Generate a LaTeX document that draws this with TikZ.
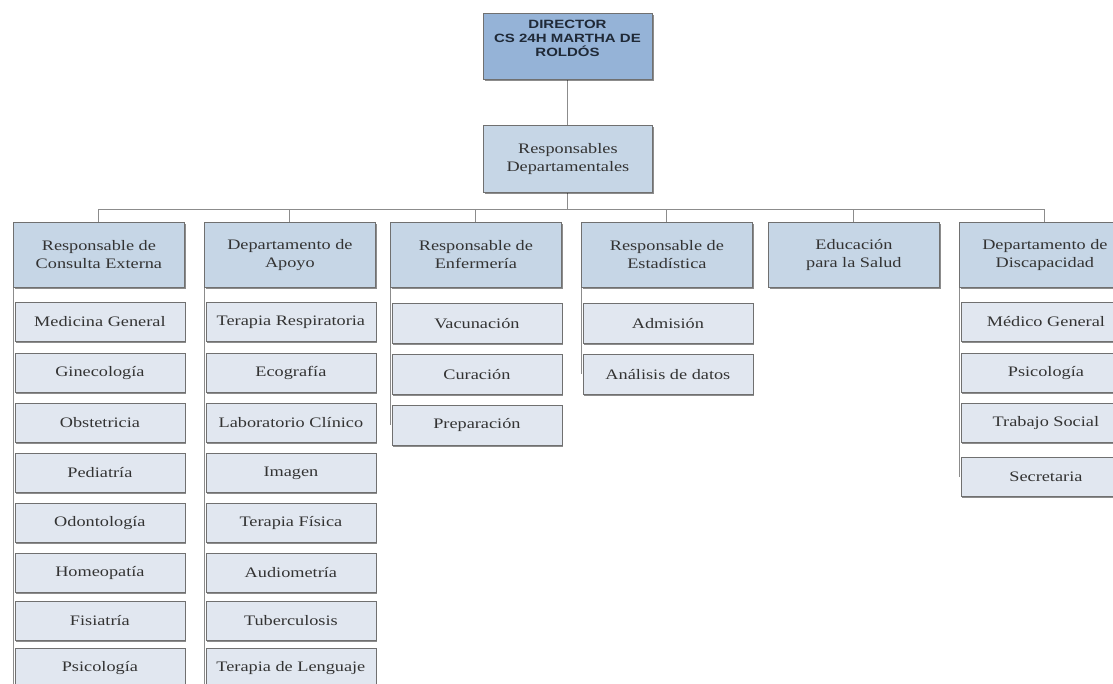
\documentclass[tikz,border=0pt]{standalone}
\usepackage{fontspec}
\setmainfont{Liberation Serif}[FakeStretch=1.26]
\newfontfamily\dirfont{Liberation Sans}[FakeStretch=1.25]
\usetikzlibrary{shadows,backgrounds}
\definecolor{dirfill}{HTML}{95B3D7}
\definecolor{headfill}{HTML}{C6D6E6}
\definecolor{subfill}{HTML}{E1E7F0}
\definecolor{edge}{HTML}{707070}
\definecolor{linec}{HTML}{8C8C8C}
\definecolor{txt}{HTML}{333333}
\definecolor{dirtxt}{HTML}{1F2937}
\tikzset{
  box/.style={draw=edge, line width=0.8pt, anchor=north west, minimum width=171pt,
    inner sep=2pt, align=center, text=txt, font=\fontsize{14.5}{18}\selectfont,
    drop shadow={shadow xshift=1.3pt, shadow yshift=-1.3pt, fill=black, opacity=0.45}},
  dirbox/.style={box, fill=dirfill, minimum width=169pt, minimum height=66pt},
  headbox/.style={box, fill=headfill, minimum height=65pt},
  subbox/.style={box, fill=subfill, minimum width=170pt, minimum height=39pt},
  dirlabel/.style={text=dirtxt, align=center, font=\dirfont\bfseries\fontsize{12}{14}\selectfont},
  conn/.style={draw=linec, line width=0.9pt},
}
\begin{document}
\begin{tikzpicture}[x=1pt,y=-1pt]
\useasboundingbox (0,0) rectangle (1113,683);
\clip (0,0) rectangle (1113,683);
% top
\node[dirbox] (dir) at (483,13) {};
\node[dirlabel] (dirtext) at (567.5,38) {DIRECTOR\\CS 24H MARTHA DE\\ROLDÓS};
\node[headbox, minimum width=169pt, minimum height=67pt] (resp) at (483,125) {Responsables\\Departamentales};
% department headers
\node[headbox] (h1) at (13,222) {Responsable de\\Consulta Externa};
\node[headbox] (h2) at (204,222) {Departamento de\\Apoyo};
\node[headbox] (h3) at (390,222) {Responsable de\\Enfermería};
\node[headbox] (h4) at (581,222) {Responsable de\\Estadística};
\node[headbox] (h5) at (768,222) {Educación\\para la Salud};
\node[headbox] (h6) at (959,222) {Departamento de\\Discapacidad};
% column 1
\foreach \t/\y [count=\i] in {Medicina General/302, Ginecología/353, Obstetricia/403, Pediatría/453,
  Odontología/503, Homeopatía/553, Fisiatría/601, Psicología/648}
  \node[subbox] (a\i) at (14.5,\y) {\t};
% column 2
\foreach \t/\y [count=\i] in {Terapia Respiratoria/302, Ecografía/353, Laboratorio Clínico/403, Imagen/453,
  Terapia Física/503, Audiometría/553, Tuberculosis/601, Terapia de Lenguaje/648}
  \node[subbox] (b\i) at (205.5,\y) {\t};
% column 3
\foreach \t/\y [count=\i] in {Vacunación/303, Curación/354, Preparación/405}
  \node[subbox, minimum height=40pt] (c\i) at (391.5,\y) {\t};
% column 4
\foreach \t/\y [count=\i] in {Admisión/303, Análisis de datos/354}
  \node[subbox, minimum height=40pt] (d\i) at (582.5,\y) {\t};
% column 6
\foreach \t/\y [count=\i] in {Médico General/302, Psicología/353, Trabajo Social/403, Secretaria/457}
  \node[subbox] (f\i) at (960.5,\y) {\t};
% connectors
\begin{scope}[on background layer]
  \draw[conn] (dir.south) -- (resp.north);
  \foreach \h in {h1,h2,h3,h4,h5,h6}
    \draw[conn] (resp.south) -- ++(0,17) -| (\h.north);
  \draw[conn] (h1.south west) -- (h1.south west |- a8.south);
  \draw[conn] (h2.south west) -- (h2.south west |- b8.south);
  \draw[conn] (h3.south west) -- (h3.south west |- c3.west);
  \draw[conn] (h4.south west) -- (h4.south west |- d2.west);
  \draw[conn] (h6.south west) -- (h6.south west |- f4.west);
\end{scope}
\end{tikzpicture}
\end{document}
